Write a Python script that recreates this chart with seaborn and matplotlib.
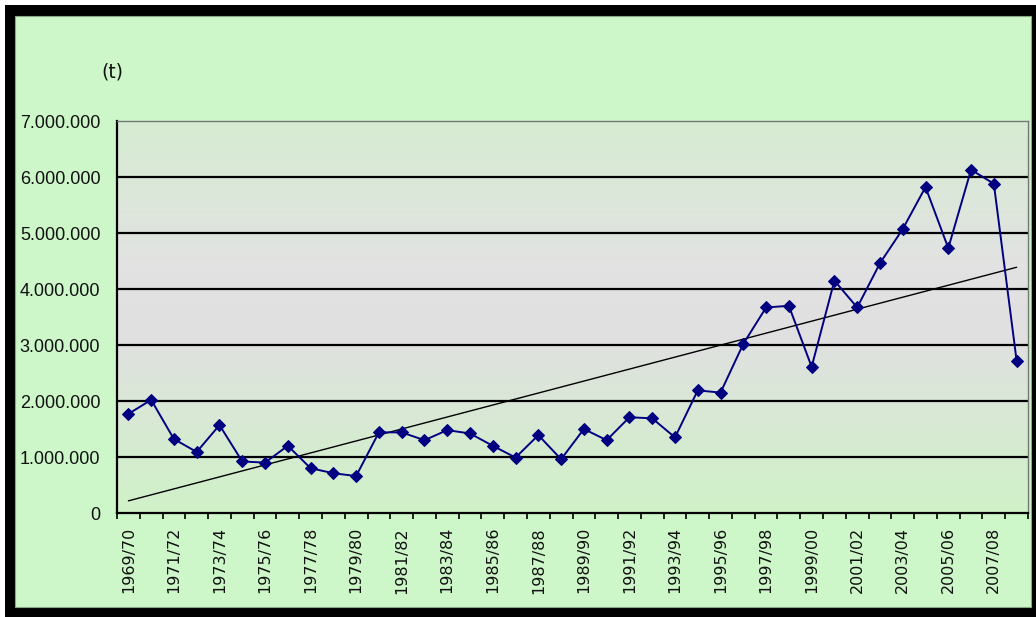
import numpy as np
import pandas as pd
import matplotlib
matplotlib.use("Agg")
import matplotlib.pyplot as plt
from matplotlib.patches import Rectangle
from matplotlib.colors import LinearSegmentedColormap
from matplotlib.ticker import FuncFormatter, FixedLocator
import seaborn as sns

# Seasons 1969/70 .. 2008/09 and production in tonnes
start_years = list(range(1969, 2009))
seasons = [f"{y}/{str(y + 1)[-2:]}" for y in start_years]
tonnes = [
    1770000, 2020000, 1320000, 1090000, 1570000, 920000, 900000, 1200000, 800000, 710000,
    660000, 1440000, 1440000, 1300000, 1480000, 1420000, 1200000, 990000, 1390000, 960000,
    1500000, 1300000, 1710000, 1690000, 1350000, 2190000, 2150000, 3020000, 3670000, 3700000,
    2610000, 4150000, 3670000, 4460000, 5070000, 5820000, 4730000, 6130000, 5880000, 2720000,
]
y_ticks = [0, 1000000, 2000000, 3000000, 4000000, 5000000, 6000000, 7000000]
unit_label = "(t)"

df = pd.DataFrame({"season": seasons, "pos": np.arange(len(seasons)), "tonnes": tonnes})

sns.set_theme(style="white")
plt.rcParams["font.family"] = ["DejaVu Sans"]

W, H = 1036, 617
fig = plt.figure(figsize=(W / 100, H / 100), dpi=100)
fig.patch.set_facecolor("white")

# outer black frame and light green chart area
fig.add_artist(Rectangle((5 / W, 0), 1 - 5 / W, 1 - 5 / H, transform=fig.transFigure,
                         facecolor="black", edgecolor="none", zorder=-10))
fig.add_artist(Rectangle((15 / W, 10 / H), (1031 - 15) / W, (601 - 10) / H,
                         transform=fig.transFigure, facecolor="#cdf7c8",
                         edgecolor="#8aa888", linewidth=0.8, zorder=-9))

ax = fig.add_axes([117 / W, 1 - 513 / H, (1028 - 117) / W, (513 - 121) / H])

# plot-area gradient: green at the edges, grey in the middle
cmap = LinearSegmentedColormap.from_list(
    "plotfill",
    [(0.0, "#d0f2c8"), (0.45, "#e0e0e0"), (0.62, "#e2e2e2"), (1.0, "#d6ecd2")],
)
grad = np.linspace(0, 1, 256).reshape(-1, 1)
ax.imshow(grad, aspect="auto", cmap=cmap, origin="lower",
          extent=[0, 1, 0, 1], transform=ax.transAxes, zorder=0)

# horizontal gridlines
for v in y_ticks[1:-1]:
    ax.axhline(v, color="black", linewidth=1.6, zorder=1)

# linear trend
sns.regplot(data=df, x="pos", y="tonnes", scatter=False, ci=None, truncate=True,
            line_kws={"color": "black", "linewidth": 1.0, "zorder": 2}, ax=ax)

# production series
sns.lineplot(data=df, x="pos", y="tonnes", color="#000080", linewidth=1.4,
             marker="D", markersize=6.5, markeredgecolor="#000080",
             ax=ax, zorder=3)

ax.set_xlim(-0.5, len(seasons) - 0.5)
ax.set_ylim(0, 7000000)
ax.set_xlabel("")
ax.set_ylabel("")

# y axis
ax.yaxis.set_major_locator(FixedLocator(y_ticks))
ax.yaxis.set_major_formatter(FuncFormatter(lambda v, p: f"{v:,.0f}".replace(",", ".")))
ax.tick_params(axis="y", which="major", direction="out", length=4, width=1.2,
               color="black", pad=8, labelsize=13, labelcolor="#111111")
for lab in ax.get_yticklabels():
    lab.set_fontfamily("Liberation Sans")

# x axis: labels on every other season, tick marks at category boundaries
ax.set_xticks(df["pos"][::2])
ax.set_xticklabels(df["season"][::2], rotation=90, fontsize=11.5, color="#111111")
ax.set_xticks(np.arange(-0.5, len(seasons)), minor=True)
ax.tick_params(axis="x", which="major", length=0, pad=10)
ax.tick_params(axis="x", which="minor", direction="out", length=4, width=1.2,
               color="black", bottom=True)

for side in ["left", "bottom"]:
    ax.spines[side].set_color("black")
    ax.spines[side].set_linewidth(1.6)
for side in ["top", "right"]:
    ax.spines[side].set_visible(True)
    ax.spines[side].set_color("#777777")
    ax.spines[side].set_linewidth(1.0)

fig.text(112 / W, 1 - 72 / H, unit_label, ha="center", va="center",
         fontsize=13.5, color="#111111")

fig.savefig("out.png", dpi=100)
